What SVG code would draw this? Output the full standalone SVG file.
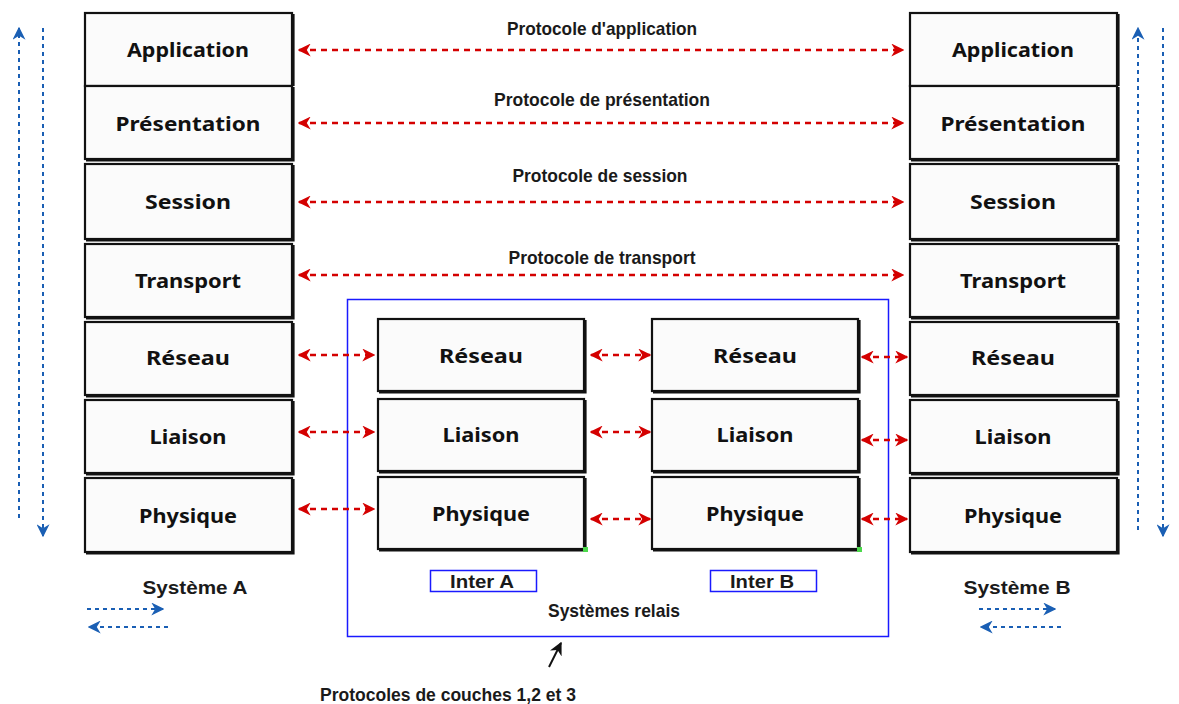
<svg xmlns="http://www.w3.org/2000/svg" width="1179" height="704" viewBox="0 0 1179 704">
<style>
.box{fill:#fbfbfb;stroke:#111;stroke-width:2.2}
.sh{fill:none;stroke:#111;stroke-width:3.2}
.lbl{font-family:"Noto Sans",Lato,sans-serif;font-weight:bold;font-size:20px;fill:#111;text-anchor:middle}
.t{font-family:"Liberation Sans",Arial,sans-serif;font-weight:bold;font-size:19px;fill:#1a1a1a;text-anchor:middle}
.red{stroke:#d40000;stroke-width:2.4;stroke-dasharray:6,5;fill:none;marker-start:url(#rs);marker-end:url(#re)}
.blue{stroke:#1a5fb4;stroke-width:2;stroke-dasharray:4,4;fill:none}
.ib{fill:none;stroke:#1a1aff;stroke-width:1.5}
</style>
<defs>
<marker id="re" viewBox="0 0 10 10" refX="9" refY="5" markerWidth="13" markerHeight="13" orient="auto" markerUnits="userSpaceOnUse">
<path d="M0,0 L10,5 L0,10 L3,5 Z" fill="#d40000"/></marker>
<marker id="rs" viewBox="0 0 10 10" refX="1" refY="5" markerWidth="13" markerHeight="13" orient="auto" markerUnits="userSpaceOnUse">
<path d="M10,0 L0,5 L10,10 L7,5 Z" fill="#d40000"/></marker>
<marker id="be" viewBox="0 0 10 10" refX="9" refY="5" markerWidth="13" markerHeight="13" orient="auto" markerUnits="userSpaceOnUse">
<path d="M0,0 L10,5 L0,10 L3,5 Z" fill="#1a5fb4"/></marker>
<marker id="ke" viewBox="0 0 10 10" refX="9" refY="5" markerWidth="13" markerHeight="13" orient="auto" markerUnits="userSpaceOnUse">
<path d="M0,0 L10,5 L0,10 L3,5 Z" fill="#111"/></marker>
</defs>

<g id="systeme-a">
<g id="a-application"><rect class="box" x="85" y="13" width="207" height="73"/><text class="lbl" x="188" y="57" textLength="122" lengthAdjust="spacingAndGlyphs">Application</text></g>
<g id="a-presentation"><rect class="box" x="85" y="86" width="207" height="73"/><path class="sh" d="M86,160 H293 V87"/><text class="lbl" x="188" y="131" textLength="145" lengthAdjust="spacingAndGlyphs">Présentation</text></g>
<g id="a-session"><rect class="box" x="85" y="164" width="207" height="75"/><path class="sh" d="M86,240 H293 V165"/><text class="lbl" x="188" y="209" textLength="86" lengthAdjust="spacingAndGlyphs">Session</text></g>
<g id="a-transport"><rect class="box" x="85" y="244" width="207" height="73"/><path class="sh" d="M86,318 H293 V245"/><text class="lbl" x="188" y="288" textLength="106" lengthAdjust="spacingAndGlyphs">Transport</text></g>
<g id="a-reseau"><rect class="box" x="85" y="322" width="207" height="73"/><path class="sh" d="M86,396 H293 V323"/><text class="lbl" x="188" y="365" textLength="84" lengthAdjust="spacingAndGlyphs">Réseau</text></g>
<g id="a-liaison"><rect class="box" x="85" y="400" width="207" height="73"/><path class="sh" d="M86,474 H293 V401"/><text class="lbl" x="188" y="444" textLength="77" lengthAdjust="spacingAndGlyphs">Liaison</text></g>
<g id="a-physique"><rect class="box" x="85" y="478" width="207" height="74"/><path class="sh" d="M86,553 H293 V479"/><text class="lbl" x="188" y="523" textLength="98" lengthAdjust="spacingAndGlyphs">Physique</text></g>
<path class="sh" d="M293,14 V86"/>
</g>

<g id="systeme-b">
<g id="b-application"><rect class="box" x="910" y="13" width="207" height="73"/><text class="lbl" x="1013" y="57" textLength="122" lengthAdjust="spacingAndGlyphs">Application</text></g>
<g id="b-presentation"><rect class="box" x="910" y="86" width="207" height="73"/><path class="sh" d="M911,160 H1118 V87"/><text class="lbl" x="1013" y="131" textLength="145" lengthAdjust="spacingAndGlyphs">Présentation</text></g>
<g id="b-session"><rect class="box" x="910" y="164" width="207" height="75"/><path class="sh" d="M911,240 H1118 V165"/><text class="lbl" x="1013" y="209" textLength="86" lengthAdjust="spacingAndGlyphs">Session</text></g>
<g id="b-transport"><rect class="box" x="910" y="244" width="207" height="73"/><path class="sh" d="M911,318 H1118 V245"/><text class="lbl" x="1013" y="288" textLength="106" lengthAdjust="spacingAndGlyphs">Transport</text></g>
<g id="b-reseau"><rect class="box" x="910" y="322" width="207" height="73"/><path class="sh" d="M911,396 H1118 V323"/><text class="lbl" x="1013" y="365" textLength="84" lengthAdjust="spacingAndGlyphs">Réseau</text></g>
<g id="b-liaison"><rect class="box" x="910" y="400" width="207" height="73"/><path class="sh" d="M911,474 H1118 V401"/><text class="lbl" x="1013" y="444" textLength="77" lengthAdjust="spacingAndGlyphs">Liaison</text></g>
<g id="b-physique"><rect class="box" x="910" y="478" width="207" height="74"/><path class="sh" d="M911,553 H1118 V479"/><text class="lbl" x="1013" y="523" textLength="98" lengthAdjust="spacingAndGlyphs">Physique</text></g>
<path class="sh" d="M1118,14 V86"/>
</g>

<g id="relais">
<rect class="ib" x="347.5" y="299.5" width="541" height="337"/>
<text class="t" x="614" y="617" textLength="132" lengthAdjust="spacingAndGlyphs">Systèmes relais</text>
</g>

<g id="inter-a">
<g id="ia-reseau"><rect class="box" x="378" y="319" width="206" height="72"/><path class="sh" d="M379,392 H585 V320"/><text class="lbl" x="481" y="363" textLength="84" lengthAdjust="spacingAndGlyphs">Réseau</text></g>
<g id="ia-liaison"><rect class="box" x="378" y="399" width="206" height="72"/><path class="sh" d="M379,472 H585 V400"/><text class="lbl" x="481" y="442" textLength="77" lengthAdjust="spacingAndGlyphs">Liaison</text></g>
<g id="ia-physique"><rect class="box" x="378" y="477" width="206" height="72"/><path class="sh" d="M379,550 H585 V478"/><text class="lbl" x="481" y="521" textLength="98" lengthAdjust="spacingAndGlyphs">Physique</text></g>
<rect x="583" y="547" width="5" height="5" fill="#4cd94c"/>
<rect class="ib" x="430.5" y="570.5" width="106" height="21"/>
<text class="t" x="482" y="588" textLength="64" lengthAdjust="spacingAndGlyphs">Inter A</text>
</g>

<g id="inter-b">
<g id="ib-reseau"><rect class="box" x="652" y="319" width="206" height="72"/><path class="sh" d="M653,392 H859 V320"/><text class="lbl" x="755" y="363" textLength="84" lengthAdjust="spacingAndGlyphs">Réseau</text></g>
<g id="ib-liaison"><rect class="box" x="652" y="399" width="206" height="72"/><path class="sh" d="M653,472 H859 V400"/><text class="lbl" x="755" y="442" textLength="77" lengthAdjust="spacingAndGlyphs">Liaison</text></g>
<g id="ib-physique"><rect class="box" x="652" y="477" width="206" height="72"/><path class="sh" d="M653,550 H859 V478"/><text class="lbl" x="755" y="521" textLength="98" lengthAdjust="spacingAndGlyphs">Physique</text></g>
<rect x="857" y="547" width="5" height="5" fill="#4cd94c"/>
<rect class="ib" x="710.5" y="570.5" width="106" height="21"/>
<text class="t" x="762" y="588" textLength="64" lengthAdjust="spacingAndGlyphs">Inter B</text>
</g>

<g id="labels">
<text class="t" x="602" y="35" textLength="190" lengthAdjust="spacingAndGlyphs">Protocole d'application</text>
<text class="t" x="602" y="106" textLength="216" lengthAdjust="spacingAndGlyphs">Protocole de présentation</text>
<text class="t" x="600" y="182" textLength="175" lengthAdjust="spacingAndGlyphs">Protocole de session</text>
<text class="t" x="602" y="264" textLength="187" lengthAdjust="spacingAndGlyphs">Protocole de transport</text>
<text class="t" x="195" y="594" textLength="105" lengthAdjust="spacingAndGlyphs">Système A</text>
<text class="t" x="1017" y="594" textLength="107" lengthAdjust="spacingAndGlyphs">Système B</text>
<text class="t" x="448" y="701" textLength="256" lengthAdjust="spacingAndGlyphs">Protocoles de couches 1,2 et 3</text>
</g>

<g id="connectors">
<path class="red" d="M299,50 H903"/>
<path class="red" d="M299,123 H903"/>
<path class="red" d="M299,202 H903"/>
<path class="red" d="M299,275 H903"/>
<path class="red" d="M299,355 H374"/>
<path class="red" d="M299,432 H374"/>
<path class="red" d="M299,509 H374"/>
<path class="red" d="M591,355 H650"/>
<path class="red" d="M591,432 H650"/>
<path class="red" d="M591,519 H650"/>
<path class="red" d="M862,357 H907"/>
<path class="red" d="M862,440 H907"/>
<path class="red" d="M862,519 H907"/>
<path class="blue" d="M19,518 V28" marker-end="url(#be)"/>
<path class="blue" d="M43,28 V536" marker-end="url(#be)"/>
<path class="blue" d="M1138,530 V28" marker-end="url(#be)"/>
<path class="blue" d="M1163,28 V536" marker-end="url(#be)"/>
<path class="blue" d="M87,609 H163" marker-end="url(#be)"/>
<path class="blue" d="M168,627 H89" marker-end="url(#be)"/>
<path class="blue" d="M979,609 H1055" marker-end="url(#be)"/>
<path class="blue" d="M1061,627 H981" marker-end="url(#be)"/>
<path d="M549,667 L561,643" stroke="#111" stroke-width="2" fill="none" marker-end="url(#ke)"/>
</g>
</svg>
